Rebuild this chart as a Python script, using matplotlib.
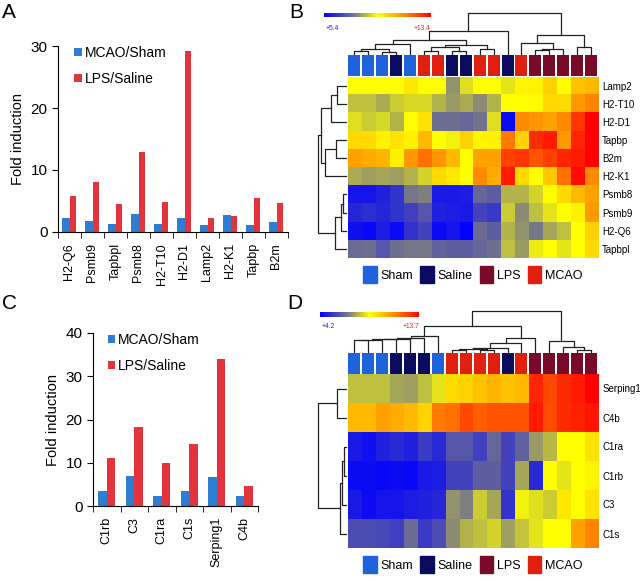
import numpy as np
import matplotlib
matplotlib.use('Agg')
import matplotlib.pyplot as plt
from matplotlib.colors import LinearSegmentedColormap
from matplotlib.patches import Patch

plt.rcParams['font.family'] = ['Liberation Sans', 'DejaVu Sans']

W, H = 640, 581

# ---------------- bar chart data (A, C)
genes_a = ['H2-Q6', 'Psmb9', 'Tapbpl', 'Psmb8', 'H2-T10', 'H2-D1', 'Lamp2', 'H2-K1', 'Tapbp', 'B2m']
mcao_a = [2.2, 1.8, 1.3, 2.9, 1.3, 2.3, 1.1, 2.8, 1.2, 1.6]
lps_a = [5.8, 8.1, 4.5, 12.9, 4.9, 29.2, 2.3, 2.6, 5.5, 4.6]

genes_c = ['C1rb', 'C3', 'C1ra', 'C1s', 'Serping1', 'C4b']
mcao_c = [3.4, 6.9, 2.4, 3.5, 6.6, 2.4]
lps_c = [11.1, 18.2, 9.9, 14.3, 34.0, 4.6]

# ---------------- heatmap data (B, D), relative level 0 (low) .. 10 (high)
groups = ['Sham', 'Saline', 'LPS', 'MCAO']
group_colors = {'Sham': '#1f63dc', 'Saline': '#0a0a5e', 'LPS': '#7a0a2a', 'MCAO': '#e0200e'}

samples_b = ['Sham', 'Sham', 'Sham', 'Saline', 'Sham', 'MCAO', 'MCAO', 'Saline', 'Saline',
             'MCAO', 'MCAO', 'Saline', 'MCAO', 'LPS', 'LPS', 'LPS', 'LPS', 'LPS']
rows_b = ['Lamp2', 'H2-T10', 'H2-D1', 'Tapbp', 'B2m', 'H2-K1', 'Psmb8', 'Psmb9', 'H2-Q6', 'Tapbpl']
lamp2 = [5, 5, 5, 5, 5.5, 5, 5, 3.3, 4.5, 5, 5, 4.6, 5.2, 5.3, 6, 5, 6.3, 6.5]
h2t10 = [4, 4, 3.7, 4.2, 4.4, 4.4, 3.8, 3.4, 3.7, 3.2, 3.8, 5, 5, 5.1, 5.8, 5.8, 7.2, 7.6]
h2d1 = [4.5, 4.2, 4.4, 3.8, 5, 5.6, 2.6, 2.6, 2.4, 2.7, 4.5, 0.3, 7.5, 7.3, 7.0, 7.5, 9, 10]
tapbp = [5.8, 5.8, 5.3, 5.6, 5.3, 6.5, 5, 4.8, 6, 5.2, 5.3, 7.8, 6, 9.2, 9.5, 7.2, 9.3, 10]
b2m = [7, 6.8, 6.6, 5.3, 7.2, 8, 7.3, 6.5, 5, 7, 7, 8.8, 9, 8.5, 8.8, 9.3, 9.5, 10]
h2k1 = [3.7, 3.5, 3.6, 3.5, 3.8, 4.3, 5.8, 5.5, 5, 7.5, 6.8, 9.5, 5.8, 5, 6.2, 8, 9.8, 7.5]
psmb8 = [0.5, 0.5, 0.8, 1.2, 2.8, 3, 0.6, 0.6, 0.7, 2.4, 2.2, 3.8, 3.8, 4.3, 5, 5.8, 6.5, 7]
psmb9 = [0.9, 1.1, 0.9, 1.2, 1.5, 2, 0.8, 0.7, 0.6, 1.6, 1.3, 4.2, 3.2, 4, 4.6, 5, 5.3, 7.2]
h2q6 = [0.4, 0.2, 0.7, 0.3, 1.2, 1.6, 0.3, 0.5, 0.1, 2.5, 2.2, 3.8, 3.3, 2.8, 3.6, 4, 5, 6]
tapbpl = [2.5, 2.6, 2, 2.6, 2.8, 2.8, 2.3, 2.2, 2.2, 2.4, 2.6, 4, 3.4, 4.7, 5, 4.6, 5, 5.8]
range_b = ('+5.4', '+13.4')

samples_d = ['Sham', 'Sham', 'Sham', 'Saline', 'Saline', 'Saline', 'Sham', 'MCAO', 'MCAO',
             'MCAO', 'MCAO', 'Saline', 'MCAO', 'LPS', 'LPS', 'LPS', 'LPS', 'LPS']
rows_d = ['Serping1', 'C4b', 'C1ra', 'C1rb', 'C3', 'C1s']
serping1 = [4, 4, 4, 3.6, 3.5, 4, 4.6, 5.8, 6, 6.3, 6.6, 6.3, 6.5, 9.3, 8.7, 9.2, 9.5, 10]
c4b = [6.5, 6.5, 7, 6.8, 6.5, 6, 7.8, 8, 8.7, 8.3, 8.5, 8.5, 8.5, 9.5, 8.6, 9.2, 9.4, 9.6]
c1ra = [0.6, 0.4, 0.8, 1, 0.8, 1.4, 1, 2, 2, 1.5, 2.4, 1.6, 2.3, 3.4, 3.9, 5, 5, 5.6]
c1rb = [0.3, 0.3, 0.2, 0.3, 0.2, 0.6, 0.7, 1.6, 1.6, 2.2, 2.2, 1.6, 3.6, 1, 5, 4.6, 5, 5.2]
c3 = [0.6, 0.3, 0.5, 0.5, 0.7, 0.8, 0.9, 3.3, 3, 4.2, 3.6, 1.2, 4.8, 4.5, 4.2, 5.5, 5, 5.6]
c1s = [1.8, 1.8, 1.7, 1.5, 2.5, 1.4, 1.8, 3.2, 3.8, 4, 4.3, 3.5, 4.1, 4.6, 5, 5, 7, 7.6]
range_d = ('+4.2', '+13.7')

# dendrogram merges (left node, right node, height); leaves first, then clusters in order
col_links_b = [(0, 1, 4.5), (2, 3, 3.5), (18, 19, 6.5), (20, 4, 11.5), (5, 6, 4.5), (7, 8, 4.0),
               (22, 23, 8.5), (9, 10, 5.8), (24, 25, 10.8), (21, 26, 15.8), (27, 11, 24.8),
               (13, 14, 4.8), (29, 15, 6.5), (12, 30, 12.2), (16, 17, 8.8), (31, 32, 20.8),
               (28, 33, 43.2)]
row_links_b = [(0, 1, 8.7), (10, 2, 15.3), (3, 4, 10), (12, 5, 21.3), (11, 13, 25.3),
               (6, 7, 3), (15, 8, 5.3), (16, 9, 11.3), (14, 17, 28.5)]
col_links_d = [(0, 1, 12.5), (18, 2, 13), (19, 3, 13.5), (20, 4, 14), (21, 5, 15), (22, 6, 17),
               (7, 8, 2.5), (9, 10, 3), (24, 25, 4.3), (26, 11, 5.3), (27, 12, 9.7), (28, 13, 14.7),
               (23, 29, 26.3), (16, 17, 3), (15, 31, 6.3), (14, 32, 11.3), (30, 33, 41)]
row_links_d = [(0, 1, 8.7), (2, 3, 2), (7, 4, 4), (8, 5, 6.3), (6, 9, 28)]

blue = '#2d7dd3'
red = '#e3333c'
heat_cmap = LinearSegmentedColormap.from_list(
    'heat', [(0, '#0000ff'), (0.3, '#808080'), (0.5, '#ffff00'), (0.75, '#ff8c00'), (1, '#ff0000')])

fig = plt.figure(figsize=(W / 100, H / 100), dpi=100)


def box(x0, y0, x1, y1):
    # pixel box (top-left origin) -> figure fraction rect
    return [x0 / W, 1 - y1 / H, (x1 - x0) / W, (y1 - y0) / H]


def bar_panel(rect, genes, mcao, lps, ymax, step, leg_anchor):
    ax = fig.add_axes(box(*rect))
    x = np.arange(len(genes))
    ax.bar(x - 0.15, mcao, width=0.31, color=blue, label='MCAO/Sham')
    ax.bar(x + 0.15, lps, width=0.30, color=red, label='LPS/Saline')
    ax.set_xlim(-0.5, len(genes) - 0.5)
    ax.set_ylim(0, ymax)
    ax.set_yticks(np.arange(0, ymax + 1, step))
    ax.set_xticks(x)
    ax.set_xticklabels(genes, rotation=90, fontsize=9)
    ax.set_xticks(np.arange(-0.5, len(genes)), minor=True)
    ax.tick_params(axis='x', which='major', length=0, pad=8)
    ax.tick_params(axis='x', which='minor', length=4)
    ax.tick_params(axis='y', length=4, labelsize=11)
    for s in ['top', 'right']:
        ax.spines[s].set_visible(False)
    ax.set_ylabel('Fold induction', fontsize=10.5)
    ax.legend(loc='upper left', bbox_to_anchor=leg_anchor, frameon=False, fontsize=10,
              handlelength=0.55, handleheight=0.55, handletextpad=0.2, labelspacing=0.85,
              borderpad=0, borderaxespad=0)
    return ax


def dendro_segments(links, n):
    pos = {i: i + 0.5 for i in range(n)}
    hgt = {i: 0.0 for i in range(n)}
    segs = []
    for k, (a, b, h) in enumerate(links):
        pa, pb = pos[a], pos[b]
        segs.append(([pa, pa, pb, pb], [hgt[a], h, h, hgt[b]]))
        pos[n + k] = (pa + pb) / 2
        hgt[n + k] = h
    return segs


def heat_panel(top, col_links, row_links, samples, rows, data, rng, heat_y, sq_y, cb_box, lab_y):
    nrow, ncol = len(rows), len(samples)
    # column dendrogram
    axc = fig.add_axes(box(347.5, top, 598, sq_y[0]))
    for xs, ys in dendro_segments(col_links, ncol):
        axc.plot(xs, ys, color='#222222', lw=0.9, clip_on=False)
    axc.set_xlim(0, ncol)
    axc.set_ylim(0, max(l[2] for l in col_links))
    axc.axis('off')
    # row dendrogram
    axr = fig.add_axes(box(317.5, heat_y[0], 346, heat_y[1]))
    for xs, ys in dendro_segments(row_links, nrow):
        axr.plot(ys, xs, color='#222222', lw=0.9, clip_on=False)
    axr.set_ylim(nrow, 0)
    axr.set_xlim(max(l[2] for l in row_links), 0)
    axr.axis('off')
    # sample group squares
    axs = fig.add_axes(box(347.5, sq_y[0], 598, sq_y[1]))
    axs.bar(np.arange(ncol) + 0.5, 1, width=0.86, color=[group_colors[s] for s in samples])
    axs.set_xlim(0, ncol)
    axs.set_ylim(0, 1)
    axs.axis('off')
    # heatmap
    axh = fig.add_axes(box(347.5, heat_y[0], 598, heat_y[1]))
    im = axh.imshow(np.array(data), cmap=heat_cmap, vmin=0, vmax=10, aspect='auto',
                    interpolation='nearest', extent=(0, ncol, nrow, 0))
    axh.set_xticks([])
    axh.yaxis.tick_right()
    axh.set_yticks(np.arange(nrow) + 0.5)
    axh.set_yticklabels(rows, fontsize=7)
    axh.tick_params(axis='y', length=0, pad=3)
    for s in axh.spines.values():
        s.set_visible(False)
    handles = [Patch(color=group_colors[g]) for g in groups]
    axh.legend(handles, groups, loc='upper center', bbox_to_anchor=(0.5, -0.045), ncol=4,
               frameon=False, fontsize=9, handlelength=1.05, handleheight=1.75,
               handletextpad=0.3, columnspacing=0.6, borderpad=0, borderaxespad=0)
    # colour scale
    cax = fig.add_axes(box(*cb_box))
    cb = fig.colorbar(im, cax=cax, orientation='horizontal')
    cb.set_ticks([])
    cb.outline.set_visible(False)
    fig.text(cb_box[0] / W + 0.002, 1 - lab_y / H, rng[0], color='#2020e0', fontsize=4.8, va='center')
    fig.text(cb_box[2] / W, 1 - lab_y / H, rng[1], color='#e02020', fontsize=4.8, va='center', ha='right')


bar_panel((58, 46, 288, 232), genes_a, mcao_a, lps_a, 30, 10, (0.07, 1.0))
bar_panel((93, 333, 258, 506), genes_c, mcao_c, lps_c, 40, 10, (0.09, 1.0))

heat_panel(13.3, col_links_b, row_links_b, samples_b, rows_b,
           [lamp2, h2t10, h2d1, tapbp, b2m, h2k1, psmb8, psmb9, h2q6, tapbpl], range_b,
           (76.5, 258), (55, 75.5), (324, 12.7, 431, 17.3), 28.5)
heat_panel(311, col_links_d, row_links_d, samples_d, rows_d,
           [serping1, c4b, c1ra, c1rb, c3, c1s], range_d,
           (374, 548), (353, 373.5), (320, 311.7, 419, 316.7), 327)

for lab, x, y in [('A', 2, 3), ('B', 289, 3), ('C', 2, 294), ('D', 287, 294)]:
    fig.text(x / W, 1 - y / H, lab, fontsize=15, va='top', ha='left')

fig.savefig('out.png', dpi=100)
